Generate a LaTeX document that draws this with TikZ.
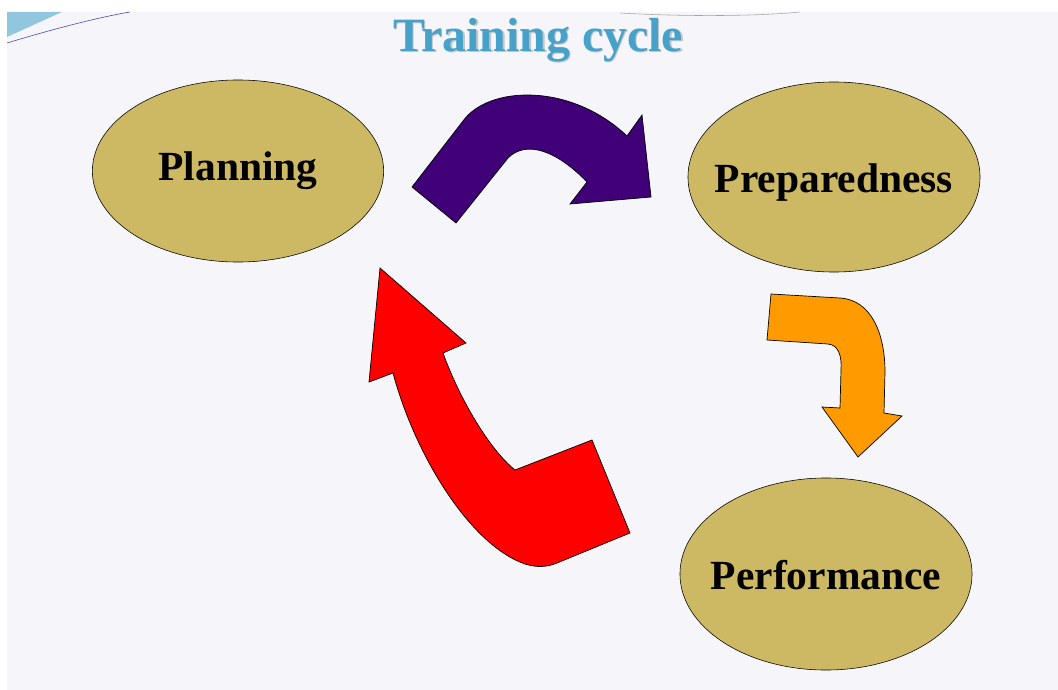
\documentclass[tikz,border=0pt]{standalone}
\usepackage{fontspec}
\setmainfont{Liberation Serif}
\usepackage{tikz}
\usetikzlibrary{shapes.geometric}
\definecolor{khaki}{RGB}{205,185,100}
\definecolor{titleblue}{RGB}{70,162,200}
\definecolor{plum}{RGB}{64,0,120}
\definecolor{amber}{RGB}{255,155,0}
\definecolor{paper}{RGB}{246,246,250}

% label that does not widen its ellipse; #1 = baseline below centre
\newcommand{\stagelabel}[2][-10pt]{\raisebox{#1}[0pt][0pt]{\makebox[0pt]{#2}}}

\tikzset{
  stage/.style={ellipse,draw=black,thin,fill=khaki,inner sep=0pt,
    font=\fontsize{29.5}{34}\selectfont\bfseries},
  bigarrow/.style={draw=black,line width=0.5pt,line join=miter}
}

\begin{document}
\begin{tikzpicture}[x=0.025cm,y=-0.025cm]
\useasboundingbox (0,0) rectangle (1058,690);
% slide background
\fill[white] (0,0) rectangle (1058,690);
\fill[paper] (7,12) rectangle (1058,690);
\fill[titleblue!60] (7,12) -- (62,12) -- (7,37) -- cycle;
\draw[blue!50!gray,thin] (7,43) .. controls (50,30) and (95,18) .. (130,12);
\draw[gray!70,thin] (620,13) .. controls (690,17) and (760,16) .. (800,12);
% title
\node[text=gray!45,font=\fontsize{34}{40}\selectfont\bfseries] at (539.5,41.5) {Training cycle};
\node (title) [text=titleblue,font=\fontsize{34}{40}\selectfont\bfseries] at (538,40) {Training cycle};
% the three stages
\node (plan) [stage,minimum width=7.28cm,minimum height=4.55cm] at (238,171) {\stagelabel[-7pt]{Planning}};
\node (prep) [stage,minimum width=7.3cm,minimum height=4.75cm] at (834,177) {\stagelabel[-11.3pt]{Preparedness}};
\node (perf) [stage,minimum width=7.3cm,minimum height=4.8cm] at (826,574) {\stagelabel[-11.3pt]{Performance}};
% plan -> prep
\filldraw[bigarrow,fill=plum] (412,187) -- (463,121) .. controls (488,86) and (570,82) .. (627,136)
  -- (642,115) -- (651,197) -- (570,204) -- (587,182)
  .. controls (556,150) and (526,140) .. (508,158) -- (456,223) -- cycle;
% prep -> perf
\filldraw[bigarrow,fill=amber] (771,294) -- (840,298) .. controls (872,300) and (885,335) .. (885,372)
  -- (884,413) -- (902,416) -- (858,457) -- (822,407) -- (840,408) -- (841,370)
  .. controls (842,355) and (838,345) .. (828,344) -- (767,340) -- cycle;
% perf -> plan
\filldraw[bigarrow,fill=red] (380,268) -- (466,343) -- (443,353)
  .. controls (460,400) and (490,450) .. (515,470) -- (592,440) -- (630,533) -- (557,563)
  .. controls (545,568) and (535,567) .. (525,564)
  .. controls (470,545) and (415,455) .. (393,373) -- (369,382) -- cycle;
\end{tikzpicture}
\end{document}
